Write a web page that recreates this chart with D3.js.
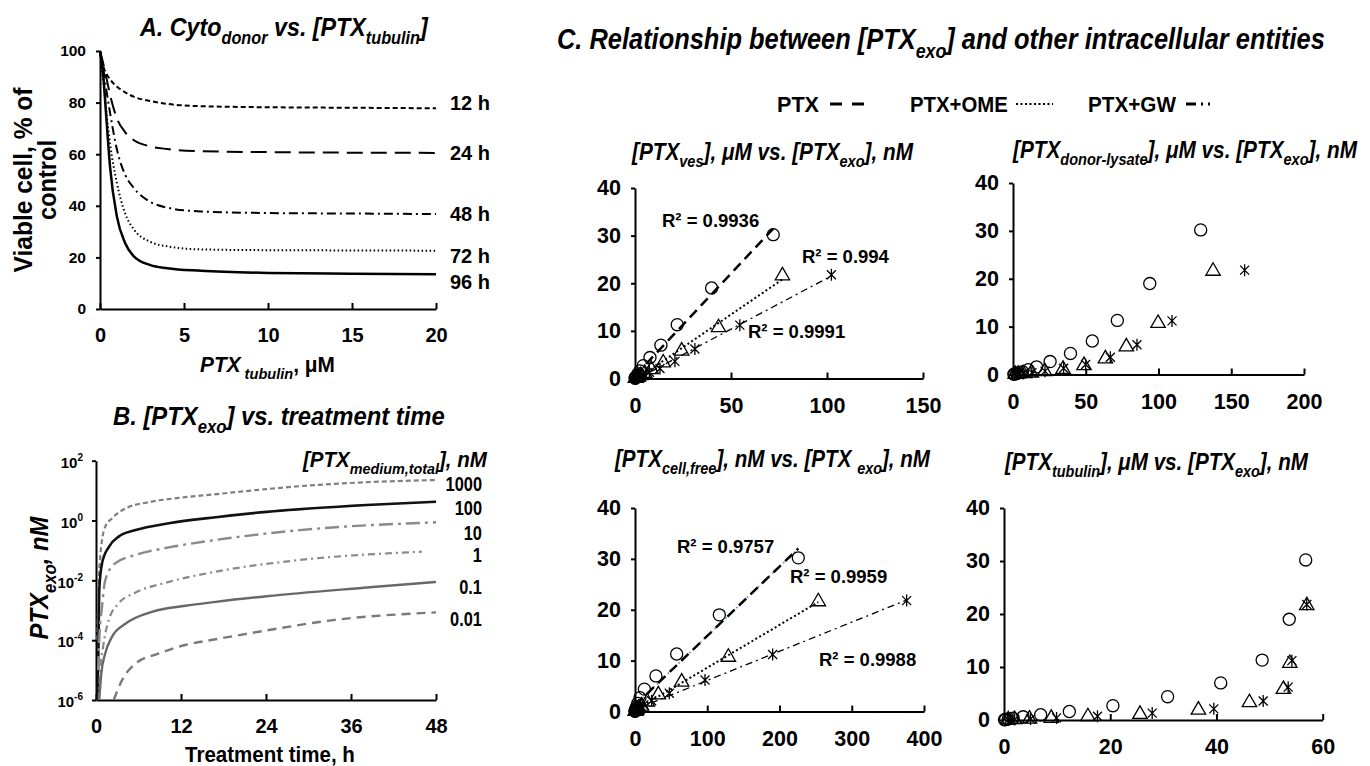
<!DOCTYPE html>
<html>
<head>
<meta charset="utf-8">
<style>
  body { margin: 0; background: #fff; }
  svg text { font-family: "Liberation Sans", Arial, sans-serif; font-weight: bold; fill: #000; }
</style>
</head>
<body>
<svg id="chart" width="1370" height="766"></svg>
<script src="https://d3js.org/d3.v7.min.js"></script>
<script>
// ---------- Panel A: viability vs PTX tubulin ----------
const doseA = [0, 0.2, 0.4, 0.6, 1, 1.5, 2, 3, 4, 6, 10, 15, 20];
const hourLabels = ['12 h', '24 h', '48 h', '72 h', '96 h'];
const cyto12 = [100, 94, 91, 89, 86.2, 84, 82.3, 80.6, 79.5, 78.6, 78.2, 78, 77.8];
const cyto24 = [100, 95, 89, 83, 74, 68.5, 65.5, 63, 62, 61.2, 60.8, 60.6, 60.5];
const cyto48 = [100, 93, 84, 76, 62, 52, 47, 41.5, 39.3, 37.8, 37.2, 37, 36.8];
const cyto72 = [100, 88, 75, 64, 49, 37, 31, 26, 24.3, 23.1, 22.8, 22.7, 22.6];
const cyto96 = [100, 90, 72, 55, 36, 25.5, 20.5, 17, 15.8, 14.8, 14, 13.7, 13.5];
const hourLabelAt = [80, 60.5, 37, 20.5, 10.5];
const ticksAx = [0, 5, 10, 15, 20];
const ticksAy = [0, 20, 40, 60, 80, 100];

// ---------- Panel B: PTX exo vs time (log) ----------
const concLabels = ['1000', '100', '10', '1', '0.1', '0.01'];
const concLabelAt = [18, 2.8, 0.41, 0.071, 0.0065, 0.00055];
const t1000 = [0.2, 0.4, 0.6, 0.85, 1.3, 2.25, 4.2, 7.9, 12.6, 16.4, 24, 28.8, 38.2, 48];
const v1000 = [1e-4, 0.01, 0.063, 0.22, 0.62, 1.17, 2.57, 4.27, 6.03, 7.41, 11.2, 14.1, 19.1, 22.6];
const t100 = [0.2, 0.37, 0.46, 0.85, 1.8, 3.2, 5.6, 10.3, 16.9, 24.1, 38.2, 48];
const v100 = [1e-6, 1e-4, 4.8e-3, 0.037, 0.13, 0.29, 0.48, 0.81, 1.29, 1.95, 3.31, 4.27];
const t10 = [0.3, 0.5, 0.85, 1.3, 2.7, 5.6, 10.3, 16.9, 28.8, 48];
const v10 = [1e-5, 1.6e-4, 1.3e-3, 0.010, 0.037, 0.071, 0.126, 0.224, 0.479, 0.871];
const t1 = [0.4, 0.6, 1.0, 1.8, 3.2, 5.6, 10.3, 16.9, 28.8, 46];
const v1 = [1e-6, 1e-5, 6.0e-5, 4.7e-4, 1.7e-3, 3.9e-3, 8.9e-3, 0.0195, 0.048, 0.091];
const t01 = [0.45, 0.75, 1.3, 2.25, 4.2, 7.9, 12.6, 16.9, 24.1, 38.2, 48];
const v01 = [1e-6, 7.8e-6, 3.6e-5, 1.29e-4, 3.6e-4, 8.9e-4, 1.41e-3, 1.91e-3, 2.95e-3, 5.75e-3, 8.9e-3];
const t001 = [2.5, 3.7, 5.6, 8.9, 12.6, 16.9, 24, 33.5, 48];
const v001 = [1e-6, 4.7e-6, 1.66e-5, 3.6e-5, 6.9e-5, 1.07e-4, 2.1e-4, 4.7e-4, 8.5e-4];
const ticksBx = [0, 12, 24, 36, 48];
const ticksBy = [1e-6, 1e-4, 1e-2, 1, 1e2];

// ---------- Panel C: PTX exo (nM, y) vs other entities (x) ----------
const seriesNames = ['PTX', 'PTX+OME', 'PTX+GW'];
const exoPTX = [30.2, 19.0, 11.3, 7.0, 4.4, 2.7, 1.6, 1.0, 0.6, 0.35, 0.2, 0.1, 0.05];
const exoOME = [21.6, 10.7, 5.8, 3.3, 1.9, 1.1, 0.65, 0.35, 0.2, 0.1, 0.05];
const exoGW  = [21.8, 11.2, 6.2, 3.6, 2.1, 1.3, 0.7, 0.4, 0.2, 0.1, 0.05];
// [PTX ves], uM
const vesPTX = [72, 39.9, 22, 13.5, 7.8, 4.3, 2.6, 1.6, 1.0, 0.6, 0.3, 0.15, 0.08];
const vesOME = [76.8, 43.5, 24.3, 14.7, 8.5, 5, 3, 1.8, 1, 0.5, 0.25];
const vesGW  = [102.3, 54.6, 31.2, 20.8, 13, 7.5, 4.5, 2.6, 1.5, 0.8, 0.4];
// [PTX donor-lysate], uM
const lysPTX = [129, 94, 71.7, 54.5, 39.5, 25.5, 16.2, 10.5, 6.5, 4, 2.5, 1.2, 0.6];
const lysOME = [137.5, 99.7, 77.9, 63.5, 48.8, 34.4, 21.8, 12.6, 7, 3.5, 1.5];
const lysGW  = [159.2, 109.3, 85.2, 66.9, 49.9, 34.8, 22, 13, 7, 3.5, 1.5];
// [PTX cell,free], nM
const freePTX = [226, 116.7, 57.7, 29, 13, 6.9, 4, 2.5, 1.5, 0.9, 0.5, 0.25, 0.1];
const freeOME = [253.7, 129.2, 64.6, 32.3, 17, 9, 5, 2.8, 1.5, 0.8, 0.4];
const freeGW  = [376, 190.5, 96.9, 47.5, 23, 12, 6.5, 3.5, 2, 1, 0.5];
// [PTX tubulin], uM
const tubPTX = [56.8, 53.7, 48.6, 40.8, 30.8, 20.5, 12.3, 6.9, 3.6, 1.7, 0.8, 0.3, 0.1];
const tubOME = [57, 53.8, 52.6, 46.2, 36.6, 25.6, 15.8, 8.9, 4.8, 2, 0.8];
const tubGW  = [57, 54.2, 53.5, 48.8, 39.5, 27.9, 17.6, 9.9, 5, 2, 0.8];
const r2ves = ['0.9936', '0.994', '0.9991'];
const r2free = ['0.9757', '0.9959', '0.9988'];
const ticksCy = [0, 10, 20, 30, 40];

const svg = d3.select('#chart');

// text with italic / sub runs, squeezed to a width if asked
function rich(parent, parts, o) {
  const t = parent.append('text').attr('font-size', o.size);
  if (o.anchor) t.attr('text-anchor', o.anchor);
  let shift = 0;
  parts.forEach(([s, f = '']) => {
    const sub = f.includes('s');
    const want = sub ? o.size * 0.3 : 0;
    const ts = t.append('tspan').text(s)
      .attr('font-size', sub ? o.size * 0.7 : o.size)
      .attr('font-style', f.includes('i') ? 'italic' : 'normal');
    if (want !== shift) { ts.attr('dy', want - shift); shift = want; }
  });
  const w = t.node().getComputedTextLength();
  const sx = o.width ? o.width / w : (o.sx || 1);
  t.attr('transform', `translate(${o.x},${o.y})` + (o.rotate ? ` rotate(${o.rotate})` : '') + ` scale(${sx},1)`);
  return t;
}

function styleAxis(a) {
  a.select('.domain').attr('stroke-width', 2);
  a.selectAll('.tick line').attr('stroke-width', 2);
}

// ---------- Panel A ----------
{
  const x = d3.scaleLinear().domain([0, 20]).range([100, 436]);
  const y = d3.scaleLinear().domain([0, 100]).range([309, 51]);
  const g = svg.append('g');
  const ax = g.append('g').attr('transform', 'translate(0,309)')
    .call(d3.axisBottom(x).tickValues(ticksAx).tickSize(-6).tickSizeOuter(0));
  ax.selectAll('text').attr('y', 33).attr('dy', null).attr('font-size', 20);
  styleAxis(ax);
  const ay = g.append('g').attr('transform', 'translate(100,0)')
    .call(d3.axisLeft(y).tickValues(ticksAy).tickSize(4).tickSizeOuter(0).tickPadding(10));
  ay.selectAll('text').attr('font-size', 15.5);
  styleAxis(ay);

  const curves = [cyto12, cyto24, cyto48, cyto72, cyto96];
  const dashes = ['5,3', '16,8', '9,4,2,4', '1.5,2.5', null];
  const widths = [2, 2, 2, 2, 2.5];
  const line = d3.line().x((d, i) => x(doseA[i])).y(d => y(d)).curve(d3.curveMonotoneX);
  curves.forEach((c, k) => {
    g.append('path').attr('d', line(c)).attr('fill', 'none').attr('stroke', '#000')
      .attr('stroke-width', widths[k]).attr('stroke-dasharray', dashes[k]);
    g.append('text').attr('x', 450).attr('y', y(hourLabelAt[k])).attr('dy', '0.36em')
      .attr('font-size', 20).text(hourLabels[k]);
  });

  rich(g, [['A. Cyto', 'i'], ['donor', 'is'], [' vs. [PTX', 'i'], ['tubulin', 'is'], [']', 'i']],
    { size: 25, x: 140, y: 36, width: 288 });
  rich(g, [['PTX', 'i'], [' tubulin', 'is'], [', μM']], { size: 22, x: 200, y: 372, width: 135 });
  rich(g, [['Viable cell, % of']], { size: 25, x: 32, y: 180, rotate: -90, anchor: 'middle', width: 185 });
  rich(g, [['control']], { size: 25, x: 56, y: 180, rotate: -90, anchor: 'middle', width: 80 });
}

// ---------- Panel B ----------
{
  const x = d3.scaleLinear().domain([0, 48]).range([96, 436]);
  const y = d3.scaleLog().domain([1e-6, 1e2]).range([700, 460.7]);
  const g = svg.append('g');
  g.append('clipPath').attr('id', 'clipB').append('rect')
    .attr('x', 96).attr('y', 455).attr('width', 345).attr('height', 245);
  const ax = g.append('g').attr('transform', 'translate(0,700)')
    .call(d3.axisBottom(x).tickValues(ticksBx).tickSize(-6).tickSizeOuter(0));
  ax.selectAll('text').attr('y', 33).attr('dy', null).attr('font-size', 20);
  styleAxis(ax);
  const ay = g.append('g').attr('transform', 'translate(96,0)')
    .call(d3.axisLeft(y).tickValues(ticksBy).tickSize(4).tickSizeOuter(0).tickFormat(''));
  styleAxis(ay);
  ay.selectAll('.tick').each(function (d) {
    const t = d3.select(this).append('text').attr('x', -13).attr('dy', '0.45em')
      .attr('text-anchor', 'end').attr('font-size', 15);
    t.append('tspan').text('10');
    t.append('tspan').attr('font-size', 10).attr('dy', -7).text(Math.round(Math.log10(d)));
  });

  const sets = [[t1000, v1000], [t100, v100], [t10, v10], [t1, v1], [t01, v01], [t001, v001]];
  const colors = ['#808080', '#111', '#8a8a8a', '#8a8a8a', '#686868', '#7a7a7a'];
  const dashes = ['5,3', null, '14,5,3,5', '7,4,2,4', null, '9,6'];
  const widths = [2.2, 2.6, 2.4, 2.2, 2.4, 2.4];
  sets.forEach(([ts, vs], k) => {
    const line = d3.line().x((d, i) => x(ts[i])).y(d => y(d)).curve(d3.curveMonotoneX);
    g.append('path').attr('d', line(vs)).attr('fill', 'none').attr('stroke', colors[k])
      .attr('stroke-width', widths[k]).attr('stroke-dasharray', dashes[k])
      .attr('clip-path', 'url(#clipB)');
    g.append('text').attr('x', 482).attr('y', y(concLabelAt[k])).attr('dy', '0.36em')
      .attr('text-anchor', 'end').attr('font-size', 21)
      .attr('transform', `translate(${482 * 0.22},0) scale(0.78,1)`)
      .text(concLabels[k]);
  });

  rich(g, [['B. [PTX', 'i'], ['exo', 'is'], ['] vs. treatment time', 'i']],
    { size: 25, x: 113, y: 425, width: 332 });
  rich(g, [['[PTX', 'i'], ['medium,total', 'is'], ['], nM', 'i']], { size: 22, x: 303, y: 467, width: 184 });
  rich(g, [['Treatment time, h']], { size: 22, x: 185, y: 762, width: 170 });
  rich(g, [['PTX', 'i'], ['exo', 'is'], [', nM', 'i']],
    { size: 25, x: 48, y: 578, rotate: -90, anchor: 'middle', width: 123 });
}

// ---------- Panel C ----------
const markerStar = 'M-4.5,-4.5L4.5,4.5M-4.5,4.5L4.5,-4.5M0,-6L0,6';
const markerTri = d3.symbol().type(d3.symbolTriangle).size(90)();
const lineDash = ['10,6', '2,2.5', '7,4,2,4'];
const lineWidth = [2.5, 2, 1.3];

function fit(xs, ys) {
  const mx = d3.mean(xs), my = d3.mean(ys);
  const b = d3.sum(xs, (v, i) => (v - mx) * (ys[i] - my)) / d3.sum(xs, v => (v - mx) ** 2);
  return [b, my - b * mx];
}

function scatter(p) {
  const x = d3.scaleLinear().domain([0, p.xmax]).range([p.x0, p.x1]);
  const y = d3.scaleLinear().domain([0, 40]).range([p.y0, p.y1]);
  const g = svg.append('g');
  const ax = g.append('g').attr('transform', `translate(0,${p.y0})`)
    .call(d3.axisBottom(x).tickValues(p.xt).tickSize(-6).tickSizeOuter(0));
  ax.selectAll('text').attr('y', 34).attr('dy', null).attr('font-size', 21.5);
  styleAxis(ax);
  const ay = g.append('g').attr('transform', `translate(${p.x0},0)`)
    .call(d3.axisLeft(y).tickValues(ticksCy).tickSize(4).tickSizeOuter(0).tickPadding(10));
  ay.selectAll('text').attr('font-size', 21.5);
  styleAxis(ay);

  const ys = [exoPTX, exoOME, exoGW];
  if (p.fit) {
    p.xs.forEach((xs, k) => {
      const [b, a] = fit(xs, ys[k]);
      const xa = d3.min(xs), xb = d3.max(xs);
      if (k === 0 && p.blue) {
        g.append('line').attr('x1', x(xa)).attr('y1', y(a + b * xa)).attr('x2', x(xb)).attr('y2', y(a + b * xb))
          .attr('stroke', '#6a9fe0').attr('stroke-width', 1.6).attr('stroke-dasharray', '2,3');
      }
      g.append('line').attr('x1', x(xa)).attr('y1', y(a + b * xa)).attr('x2', x(xb)).attr('y2', y(a + b * xb))
        .attr('stroke', '#000').attr('stroke-width', lineWidth[k]).attr('stroke-dasharray', lineDash[k]);
    });
  }
  p.xs.forEach((xs, k) => {
    const pts = xs.map((v, i) => [x(v), y(ys[k][i])]);
    const sel = g.append('g').selectAll('path').data(pts).join('path')
      .attr('transform', d => `translate(${d[0]},${d[1]})`)
      .attr('fill', 'none').attr('stroke', '#000').attr('stroke-width', 1.3);
    if (k === 0) sel.attr('d', d3.symbol().type(d3.symbolCircle).size(115)());
    else if (k === 1) sel.attr('d', markerTri);
    else sel.attr('d', markerStar);
  });
  rich(g, p.title, { size: 24, x: p.tx, y: p.ty, width: p.tw });
  if (p.r2) {
    p.r2.forEach((r, k) => {
      g.append('text').attr('x', p.r2pos[k][0]).attr('y', p.r2pos[k][1])
        .attr('font-size', 18.5).text('R² = ' + r);
    });
  }
}

scatter({
  x0: 635, x1: 923, y0: 378.5, y1: 188, xmax: 150, xt: [0, 50, 100, 150],
  xs: [vesPTX, vesOME, vesGW], fit: true,
  title: [['[PTX', 'i'], ['ves', 'is'], ['], μM vs. [PTX', 'i'], ['exo', 'is'], ['], nM', 'i']],
  tx: 632, ty: 160, tw: 281,
  r2: r2ves, r2pos: [[662, 227], [802, 263], [748, 338]]
});
scatter({
  x0: 1013, x1: 1304, y0: 374.5, y1: 183, xmax: 200, xt: [0, 50, 100, 150, 200],
  xs: [lysPTX, lysOME, lysGW], fit: false,
  title: [['[PTX', 'i'], ['donor-lysate', 'is'], ['], μM vs. [PTX', 'i'], ['exo', 'is'], ['], nM', 'i']],
  tx: 1013, ty: 158, tw: 344
});
scatter({
  x0: 635, x1: 924, y0: 711.5, y1: 508, xmax: 400, xt: [0, 100, 200, 300, 400],
  xs: [freePTX, freeOME, freeGW], fit: true, blue: true,
  title: [['[PTX', 'i'], ['cell,free', 'is'], ['], nM vs. [PTX ', 'i'], ['exo', 'is'], ['], nM', 'i']],
  tx: 615, ty: 467, tw: 315,
  r2: r2free, r2pos: [[677, 553], [790, 583], [819, 666]]
});
scatter({
  x0: 1004, x1: 1322.7, y0: 720, y1: 508, xmax: 60, xt: [0, 20, 40, 60],
  xs: [tubPTX, tubOME, tubGW], fit: false,
  title: [['[PTX', 'i'], ['tubulin', 'is'], ['], μM vs. [PTX', 'i'], ['exo', 'is'], ['], nM', 'i']],
  tx: 1005, ty: 470, tw: 303
});

// panel C heading and legend
rich(svg, [['C. Relationship between [PTX', 'i'], ['exo', 'is'], ['] and other intracellular entities', 'i']],
  { size: 30, x: 557, y: 49, width: 768 });
const legX = [777, 910, 1088];
const legW = [42, 98, 88];
const legSample = [[830, 864], [1016, 1053], [1186, 1221]];
const legDash = ['12,10', '2,2.5', '10,5,2,5,2,20'];
seriesNames.forEach((n, k) => {
  rich(svg, [[n]], { size: 22, x: legX[k], y: 112, width: legW[k] });
  svg.append('line').attr('x1', legSample[k][0]).attr('x2', legSample[k][1]).attr('y1', 104).attr('y2', 104)
    .attr('stroke', '#000').attr('stroke-width', k === 1 ? 2 : 3).attr('stroke-dasharray', legDash[k]);
});
</script>
</body>
</html>
